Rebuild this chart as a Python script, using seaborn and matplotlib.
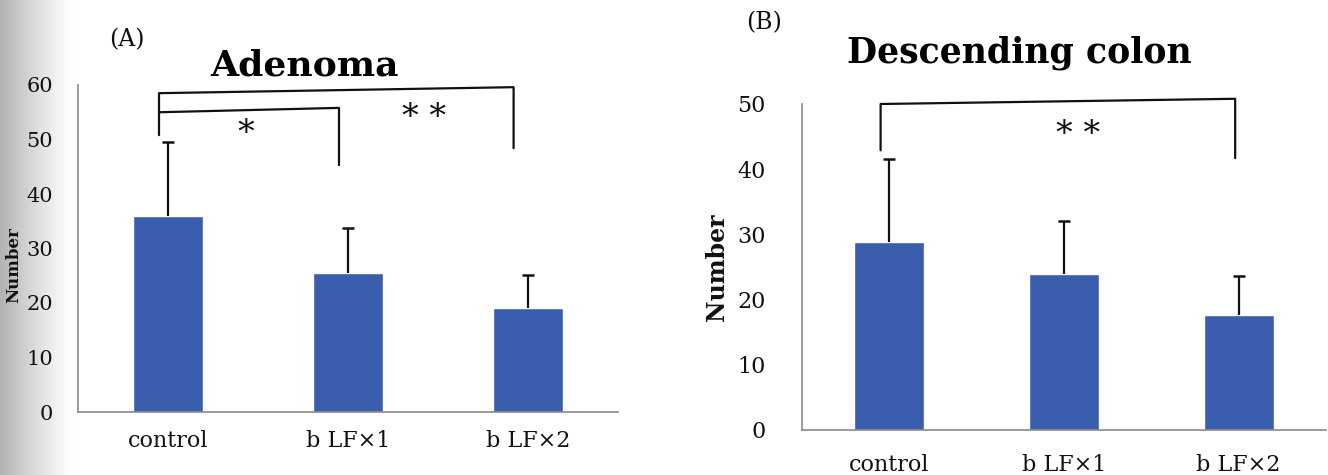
import numpy as np
import pandas as pd
import matplotlib
matplotlib.use("Agg")
import matplotlib.pyplot as plt
import seaborn as sns

# data (mean, upper SD)
groups = ["control", "b LF×1", "b LF×2"]
adenoma_mean = [35.9, 25.5, 19.1]
adenoma_sd = [13.6, 8.3, 6.0]
colon_mean = [28.9, 23.9, 17.7]
colon_sd = [12.6, 8.1, 5.9]

sns.set_theme(style="white")
plt.rcParams['font.family'] = ['DejaVu Serif']
plt.rcParams['text.color'] = "#111111"
plt.rcParams['axes.labelcolor'] = "#111111"
plt.rcParams['xtick.labelcolor'] = "#111111"
plt.rcParams['ytick.labelcolor'] = "#111111"

bar_color = "#3a5dae"
grey = "#8a8a8a"

fig = plt.figure(figsize=(13.28, 4.75), dpi=100)

# scan shadow along the left edge of the page
shade = fig.add_axes([0, 0, 75 / 1328, 1], zorder=-5)
ramp = 1 - 0.3 * (1 - np.linspace(0, 1, 128)) ** 1.2
shade.imshow(ramp[None, :], cmap="gray", vmin=0, vmax=1,
             aspect="auto", extent=[0, 1, 0, 1])
shade.axis("off")

axA = fig.add_axes([78 / 1328, 1 - 412 / 475, 540 / 1328, 327 / 475])
axB = fig.add_axes([802 / 1328, 1 - 430 / 475, 524 / 1328, 326 / 475])
for ax in (axA, axB):
    ax.patch.set_alpha(0)


def panel(ax, means, sds, ymax, width, label_size, ytick_size, ypad, xpad, lab_xy):
    df = pd.DataFrame({"group": groups, "value": means})
    sns.barplot(data=df, x="group", y="value", color=bar_color, width=width,
                saturation=1, errorbar=None, ax=ax)
    x = np.arange(len(groups))
    tops = np.array(means) + np.array(sds)
    # upper-only error bars with a cap on top
    ax.vlines(x, means, tops, color="#111111", lw=1.6)
    ax.plot(x, tops, ls="none", marker="_", ms=9, mew=1.8, color="#111111")
    ax.set_xlim(-0.5, 2.5)
    ax.set_ylim(0, ymax)
    ax.set_yticks(range(0, ymax + 1, 10))
    ax.set_xlabel("")
    ax.set_ylabel("Number", fontsize=label_size, fontweight="bold")
    ax.yaxis.set_label_coords(*lab_xy)
    for s in ["top", "right"]:
        ax.spines[s].set_visible(False)
    for s in ["left", "bottom"]:
        ax.spines[s].set_color(grey)
        ax.spines[s].set_linewidth(1.2)
    # category ticks on the boundaries, like the Excel original
    ax.set_xticks([0.5, 1.5, 2.5], minor=False)
    ax.set_xticklabels([])
    ax.set_xticks(x, minor=True)
    ax.set_xticklabels(groups, minor=True, fontsize=16)
    ax.tick_params(axis="x", which="major", length=7, color=grey, direction="in", width=1.2)
    ax.tick_params(axis="x", which="minor", length=0, pad=xpad)
    ax.tick_params(axis="y", length=6, color=grey, direction="out", width=1.2,
                   labelsize=ytick_size, pad=ypad)


panel(axA, adenoma_mean, adenoma_sd, 60, 0.39, 12, 15, 12, 13, (-0.104, 0.45))
panel(axB, colon_mean, colon_sd, 50, 0.40, 17, 16, 20, 17, (-0.14, 0.5))

# significance brackets
kw = dict(color="#111111", lw=1.6, clip_on=False)
axA.plot([-0.05, -0.05, 1.92, 1.92], [50.8, 58.5, 59.6, 48.4], **kw)
axA.plot([-0.05, 0.95, 0.95], [55.0, 55.8, 45.3], **kw)
axA.text(0.43, 51.0, "*", ha="center", va="center", fontsize=24)
axA.text(1.42, 54.0, "* *", ha="center", va="center", fontsize=24)

axB.plot([-0.05, -0.05, 1.98, 1.98], [42.9, 50.0, 50.8, 41.7], **kw)
axB.text(1.08, 45.3, "* *", ha="center", va="center", fontsize=24)

fig.text(304 / 1328, 1 - 66 / 475, "Adenoma", ha="center", va="center",
         fontsize=26, fontweight="bold", color="black")
fig.text(1019 / 1328, 1 - 53 / 475, "Descending colon", ha="center", va="center",
         fontsize=25, fontweight="bold", color="black")
fig.text(127 / 1328, 1 - 40 / 475, "(A)", ha="center", va="center", fontsize=17)
fig.text(764 / 1328, 1 - 23 / 475, "(B)", ha="center", va="center", fontsize=17)

fig.savefig("out.png", dpi=100)
